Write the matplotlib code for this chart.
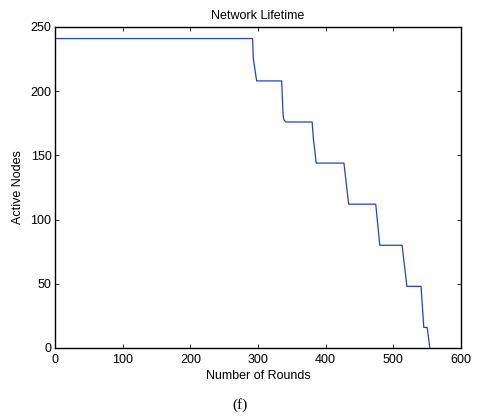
import matplotlib
matplotlib.use("Agg")
import matplotlib.pyplot as plt

# Alive nodes per round (breakpoints of the step curve)
rounds = [0, 292, 293, 294, 298, 335, 337, 338, 341, 380, 382, 383, 386,
          427, 434, 474, 480, 513, 516, 517, 520, 541, 545, 550, 554]
alive = [241, 241, 226, 222, 208, 208, 182, 178, 176, 176, 162, 158, 144,
         144, 112, 112, 80, 80, 66, 62, 48, 48, 16, 16, 0]

x_ticks = [0, 100, 200, 300, 400, 500, 600]
y_ticks = [0, 50, 100, 150, 200, 250]

plt.rcParams['font.family'] = ['Liberation Sans', 'DejaVu Sans']

fig = plt.figure(figsize=(4.8, 4.17), dpi=100)
ax = fig.add_axes([0.1146, 0.1655, 0.8458, 0.7698])
ax.plot(rounds, alive, color='#2444b8', lw=0.9)

ax.set_xlim(0, 600)
ax.set_ylim(0, 250)
ax.set_xticks(x_ticks)
ax.set_yticks(y_ticks)
ax.tick_params(direction='in', top=True, right=True, labelsize=9,
               length=3, width=0.6)
ax.tick_params(axis='x', pad=4.5)
ax.tick_params(axis='y', pad=2.5)
for s in ax.spines.values():
    s.set_linewidth(1.0)

ax.set_title('Network Lifetime', fontsize=9, pad=6)
ax.set_xlabel('Number of Rounds', fontsize=9, labelpad=3)
ax.set_ylabel('Active Nodes', fontsize=9, labelpad=5)

fig.text(0.5, 0.029, '(f)', ha='center', va='center', fontsize=11,
         family=['Liberation Serif', 'DejaVu Serif'])

fig.savefig('out.png', dpi=100)
